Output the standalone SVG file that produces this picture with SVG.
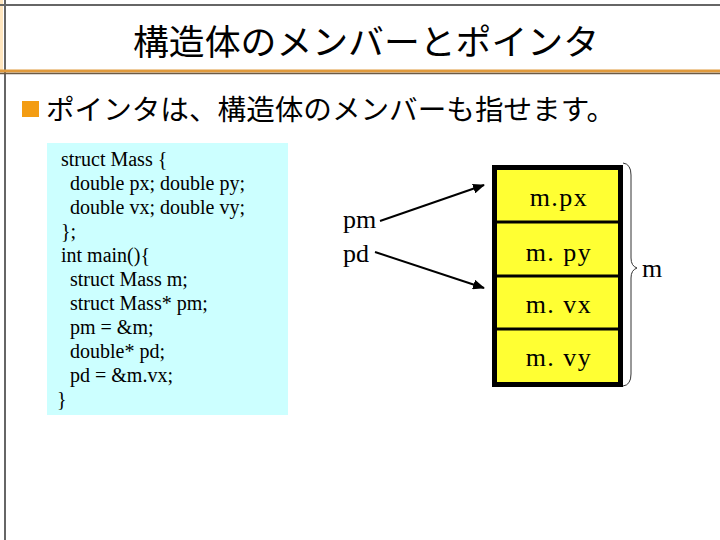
<svg xmlns="http://www.w3.org/2000/svg" width="720" height="540" viewBox="0 0 720 540">
<defs>
<style>
.jp{font-family:"Noto Sans CJK JP","Noto Sans CJK SC",sans-serif;fill:#000}
.code{font-family:"Liberation Serif","Times New Roman",serif;font-size:20px;fill:#000}
.lbl{font-family:"Liberation Serif","Times New Roman",serif;font-size:26px;fill:#000}
.cell{fill:#ffff33;stroke:#555500;stroke-width:1}
.cellt{font-family:"Liberation Serif","Times New Roman",serif;font-size:26px;letter-spacing:1.5px;fill:#000;text-anchor:middle}
.conn{stroke:#000;stroke-width:2;fill:none;marker-end:url(#ah)}
</style>
<marker id="ah" viewBox="0 0 12 10" refX="11" refY="5" markerWidth="6" markerHeight="5" orient="auto" markerUnits="strokeWidth">
<path d="M0,0 L12,5 L0,10 z" fill="#000"/>
</marker>
</defs>
<rect width="720" height="540" fill="#fff"/>
<g id="frame">
<rect x="0" y="0" width="3" height="70" fill="#ffe6bf"/>
<line x1="0" y1="5" x2="720" y2="5" stroke="#666" stroke-width="2"/>
<line x1="5" y1="0" x2="5" y2="540" stroke="#666" stroke-width="2"/>
<line x1="0" y1="71" x2="720" y2="71" stroke="#e09a3c" stroke-width="3"/>
<line x1="0" y1="73.5" x2="720" y2="73.5" stroke="#6b5a44" stroke-width="1.5"/>
</g>
<g id="title">
<text class="jp" x="366" y="55" font-size="35" text-anchor="middle" textLength="466" lengthAdjust="spacingAndGlyphs">構造体のメンバーとポインタ</text>
</g>
<g id="bullet">
<rect x="22" y="101" width="17" height="16" fill="#f39c12"/>
<text class="jp" x="46" y="120" font-size="28" textLength="569" lengthAdjust="spacingAndGlyphs">ポインタは、構造体のメンバーも指せます。</text>
</g>
<g id="code">
<rect x="47" y="143" width="241" height="272" fill="#ccffff"/>
<text class="code" x="61" y="166">struct Mass {</text>
<text class="code" x="70" y="190">double px; double py;</text>
<text class="code" x="70" y="214">double vx; double vy;</text>
<text class="code" x="61" y="238">};</text>
<text class="code" x="61" y="262">int main(){</text>
<text class="code" x="70" y="286">struct Mass m;</text>
<text class="code" x="70" y="310">struct Mass* pm;</text>
<text class="code" x="70" y="334">pm = &amp;m;</text>
<text class="code" x="70" y="358">double* pd;</text>
<text class="code" x="70" y="382">pd = &amp;m.vx;</text>
<text class="code" x="57" y="406">}</text>
</g>
<g id="pm"><text class="lbl" x="343" y="228">pm</text></g>
<g id="pd"><text class="lbl" x="343" y="262">pd</text></g>
<g id="struct-m">
<rect class="cell" x="495" y="168" width="125" height="54"/>
<rect class="cell" x="495" y="222" width="125" height="54"/>
<rect class="cell" x="495" y="276" width="125" height="53"/>
<rect class="cell" x="495" y="329" width="125" height="55"/>
<line x1="495" y1="222" x2="620" y2="222" stroke="#000" stroke-width="3"/>
<line x1="495" y1="276" x2="620" y2="276" stroke="#000" stroke-width="3"/>
<line x1="495" y1="329" x2="620" y2="329" stroke="#000" stroke-width="3"/>
<rect x="494.5" y="167.5" width="126" height="217" fill="none" stroke="#000" stroke-width="5"/>
<text class="cellt" x="559" y="206">m.px</text>
<text class="cellt" x="559" y="261">m. py</text>
<text class="cellt" x="559" y="313">m. vx</text>
<text class="cellt" x="559" y="366">m. vy</text>
</g>
<g id="brace">
<path d="M623,163 Q631,164 631,175 L631,258 Q631,266 637,268 Q631,270 631,278 L631,374 Q631,385 623,386" fill="none" stroke="#333" stroke-width="1"/>
<text class="lbl" x="642" y="277">m</text>
</g>
<g id="connectors">
<path class="conn" d="M380,221 L484,185"/>
<path class="conn" d="M375,252 L484,288"/>
</g>
</svg>
